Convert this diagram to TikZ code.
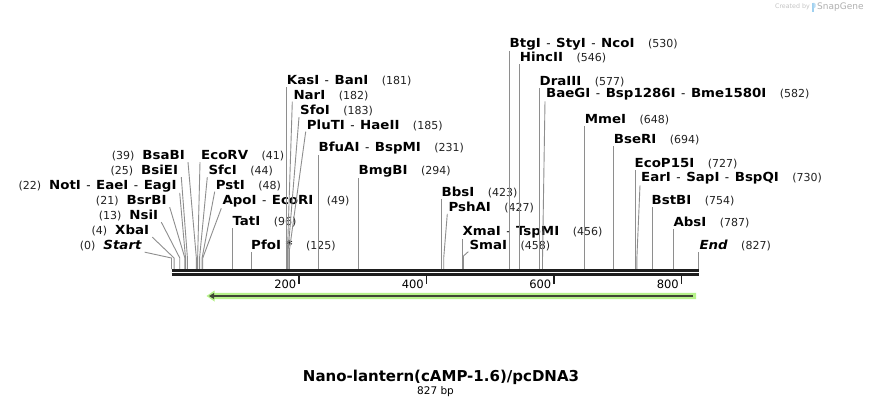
\documentclass[tikz,border=0pt]{standalone}
\usepackage{fontspec}
\setmainfont{DejaVu Sans}
\newfontfamily\enzfont[FakeStretch=1.07]{DejaVu Sans}
\definecolor{sitegray}{HTML}{8E8E8E}
\definecolor{numcol}{HTML}{222222}
\definecolor{seqcol}{HTML}{1E1E1E}
\definecolor{lgreen}{HTML}{B6F28A}
\definecolor{dgreen}{HTML}{3F4634}
\definecolor{wmgray}{HTML}{C4C4C4}
\definecolor{wmblue}{HTML}{9FD0EF}
\newcommand{\enzname}[1]{{\enzfont\fontsize{12.5}{14}\selectfont\bfseries #1}}
\newcommand{\enzit}[1]{{\enzfont\fontsize{12.5}{14}\selectfont\bfseries\itshape #1}}
\newcommand{\enzpos}[1]{{\fontsize{11}{13}\selectfont\color{numcol}#1}}
\newcommand{\enzsep}{\hspace{5.5pt}-\hspace{5.5pt}}
\newcommand{\rgap}{\hspace{13.5pt}}
\newcommand{\lgap}{\hspace{8pt}}
\tikzset{
  lab/.style={inner xsep=0pt, inner ysep=1pt, font=\fontsize{12}{14}\selectfont, text=black},
  rlab/.style={lab, anchor=base west},
  llab/.style={lab, anchor=base east},
  site/.style={draw=sitegray, line width=0.9pt},
  seqline/.style={draw=seqcol, line width=2.7pt},
  tickmark/.style={draw=seqcol, line width=1.8pt},
  ticklab/.style={inner sep=0pt, anchor=base east, font=\fontsize{11.5}{13}\selectfont},
}
\begin{document}
\begin{tikzpicture}[x=1pt,y=-1pt]
\useasboundingbox[fill=white] (0,0) rectangle (871,408);

% ---- cut-site coordinates on the sequence ----
\foreach \nm/\p in {Start/0,XbaI/4,NsiI/13,BsrBI/21,NotI/22,BsiEI/25,BsaBI/39,EcoRV/41,SfcI/44,PstI/48,ApoI/49,TatI/96,PfoI/125,KasI/181,NarI/182,SfoI/183,PluTI/185,BfuAI/231,BmgBI/294,BbsI/423,PshAI/427,XmaI/456,SmaI/458,BtgI/530,HincII/546,DraIII/577,BaeGI/582,MmeI/648,BseRI/694,EcoPI/727,EarI/730,BstBI/754,AbsI/787,End/827}{
  \coordinate (c\nm) at ({171.5+\p*0.6375},269);
}
\foreach \nm/\ey in {Start/258,XbaI/258,NsiI/258,BsrBI/258,NotI/258,BsiEI/258,BsaBI/258,EcoRV/258,SfcI/258,PstI/258,ApoI/258,NarI/250,SfoI/250,PluTI/250,PshAI/258,SmaI/256,BaeGI/258,EarI/258}{
  \coordinate (e\nm) at (c\nm |- 0,\ey);
}

% ---- labels: left side ----
\node[llab] (lStart) at (141.7,249.5) {\enzpos{(0)}\lgap\enzit{Start}};
\node[llab] (lXbaI)  at (149.3,234.5) {\enzpos{(4)}\lgap\enzname{XbaI}};
\node[llab] (lNsiI)  at (158.3,219.5) {\enzpos{(13)}\lgap\enzname{NsiI}};
\node[llab] (lBsrBI) at (166.7,204.5) {\enzpos{(21)}\lgap\enzname{BsrBI}};
\node[llab] (lNotI)  at (176.7,189.0) {\enzpos{(22)}\lgap\enzname{NotI}\enzsep\enzname{EaeI}\enzsep\enzname{EagI}};
\node[llab] (lBsiEI) at (178.3,174.5) {\enzpos{(25)}\lgap\enzname{BsiEI}};
\node[llab] (lBsaBI) at (185.0,159.5) {\enzpos{(39)}\lgap\enzname{BsaBI}};

% ---- labels: right side ----
\node[rlab] (lEcoRV) at (201.0,159.5) {\enzname{EcoRV}\rgap\enzpos{(41)}};
\node[rlab] (lSfcI)  at (208.3,174.5) {\enzname{SfcI}\rgap\enzpos{(44)}};
\node[rlab] (lPstI)  at (215.7,189.0) {\enzname{PstI}\rgap\enzpos{(48)}};
\node[rlab] (lApoI)  at (222.3,204.5) {\enzname{ApoI}\enzsep\enzname{EcoRI}\rgap\enzpos{(49)}};
\node[rlab] (lTatI)  at (232.3,225.5) {\enzname{TatI}\rgap\enzpos{(96)}};
\node[rlab] (lPfoI)  at (251.0,249.5) {\enzname{PfoI *}\rgap\enzpos{(125)}};
\node[rlab] (lKasI)  at (286.7,84.5)  {\enzname{KasI}\enzsep\enzname{BanI}\rgap\enzpos{(181)}};
\node[rlab] (lNarI)  at (293.3,99.0)  {\enzname{NarI}\rgap\enzpos{(182)}};
\node[rlab] (lSfoI)  at (300.0,114.5) {\enzname{SfoI}\rgap\enzpos{(183)}};
\node[rlab] (lPluTI) at (306.7,129.0) {\enzname{PluTI}\enzsep\enzname{HaeII}\rgap\enzpos{(185)}};
\node[rlab] (lBfuAI) at (318.5,151.5) {\enzname{BfuAI}\enzsep\enzname{BspMI}\rgap\enzpos{(231)}};
\node[rlab] (lBmgBI) at (358.5,174.5) {\enzname{BmgBI}\rgap\enzpos{(294)}};
\node[rlab] (lBbsI)  at (441.5,196.5) {\enzname{BbsI}\rgap\enzpos{(423)}};
\node[rlab] (lPshAI) at (448.3,211.2) {\enzname{PshAI}\rgap\enzpos{(427)}};
\node[rlab] (lXmaI)  at (462.3,235.0) {\enzname{XmaI}\enzsep\enzname{TspMI}\rgap\enzpos{(456)}};
\node[rlab] (lSmaI)  at (469.3,249.0) {\enzname{SmaI}\rgap\enzpos{(458)}};
\node[rlab] (lBtgI)  at (509.5,47.5)  {\enzname{BtgI}\enzsep\enzname{StyI}\enzsep\enzname{NcoI}\rgap\enzpos{(530)}};
\node[rlab] (lHincII) at (519.7,61.5) {\enzname{HincII}\rgap\enzpos{(546)}};
\node[rlab] (lDraIII) at (539.5,85.5) {\enzname{DraIII}\rgap\enzpos{(577)}};
\node[rlab] (lBaeGI) at (546.0,97.5)  {\enzname{BaeGI}\enzsep\enzname{Bsp1286I}\enzsep\enzname{Bme1580I}\rgap\enzpos{(582)}};
\node[rlab] (lMmeI)  at (584.7,123.8) {\enzname{MmeI}\rgap\enzpos{(648)}};
\node[rlab] (lBseRI) at (613.7,143.8) {\enzname{BseRI}\rgap\enzpos{(694)}};
\node[rlab] (lEcoPI) at (634.5,167.0) {\enzname{EcoP15I}\rgap\enzpos{(727)}};
\node[rlab] (lEarI)  at (641.0,181.5) {\enzname{EarI}\enzsep\enzname{SapI}\enzsep\enzname{BspQI}\rgap\enzpos{(730)}};
\node[rlab] (lBstBI) at (651.5,204.5) {\enzname{BstBI}\rgap\enzpos{(754)}};
\node[rlab] (lAbsI)  at (673.3,226.5) {\enzname{AbsI}\rgap\enzpos{(787)}};
\node[rlab] (lEnd)   at (699.3,249.5) {\enzit{End}\rgap\enzpos{(827)}};

% ---- connectors: left side (slanted) ----
\foreach \nm in {Start,XbaI,NsiI,BsrBI,NotI,BsiEI,BsaBI}{
  \draw[site] ([xshift=3pt]l\nm.south east) -- (e\nm) -- (c\nm);
}
% ---- connectors: right side slanted ----
\foreach \nm in {EcoRV,SfcI,PstI,ApoI,NarI,SfoI,PluTI,PshAI,SmaI,BaeGI,EarI}{
  \draw[site] ([xshift=-1pt]l\nm.south west) -- (e\nm) -- (c\nm);
}
% ---- connectors: right side vertical ----
\foreach \nm in {TatI,PfoI,KasI,BfuAI,BmgBI,BbsI,XmaI,BtgI,HincII,DraIII,MmeI,BseRI,EcoPI,BstBI,AbsI,End}{
  \draw[site] (c\nm) -- (c\nm |- l\nm.south);
}

% ---- sequence ----
\coordinate (s0) at (171.5,270.3);
\coordinate (s1) at (698.7,270.3);
\coordinate (t0) at (171.5,274.6);
\coordinate (t1) at (698.7,274.6);
\draw[seqline] (s0) -- (s1);
\draw[seqline] (t0) -- (t1);

% ---- ruler ----
\foreach \v in {200,400,600,800}{
  \coordinate (k\v) at ({171.5+\v*0.6375},275.5);
  \draw[tickmark] (k\v) -- ++(0,8.5);
  \node[ticklab] (kl\v) at ([xshift=-2.5pt,yshift=-12.5pt]k\v) {\v};
}

% ---- feature arrow ----
\coordinate (fa) at (206.5,296);
\coordinate (fb) at (696,296);
\fill[lgreen] (fb) ++(0,-3.2) -- ++(0,6.4) -- (214.5,299.2) -- (214.5,301.5) -- (fa) -- (214.5,290.5) -- (214.5,292.8) -- cycle;
\draw[dgreen, line width=2.2pt] (693,296) -- (213,296);
\fill[dgreen] (209,296) -- (214,293) -- (214,299) -- cycle;

% ---- title ----
\node[inner sep=0pt, font=\fontsize{15}{17}\selectfont\bfseries] (title) at (441,377) {Nano-lantern(cAMP-1.6)/pcDNA3};
\node[inner sep=0pt, font=\fontsize{10.5}{12}\selectfont] (bp) at (435.5,392) {827 bp};

% ---- watermark ----
\node[inner sep=0pt, anchor=east, text=wmgray, font=\fontsize{6.3}{7}\selectfont] (wm1) at (810,7) {Created by};
\fill[wmblue] (811.8,2.5) rectangle (813.6,11.5);
\fill[wmblue!70] (813.6,2.5) -- (815.6,4) -- (815.6,7) -- (813.6,8.5) -- cycle;
\node[inner sep=0pt, anchor=west, text=wmgray!90!black, font=\fontsize{9}{10}\selectfont] (wm2) at (817,7) {SnapGene};
\end{tikzpicture}
\end{document}
